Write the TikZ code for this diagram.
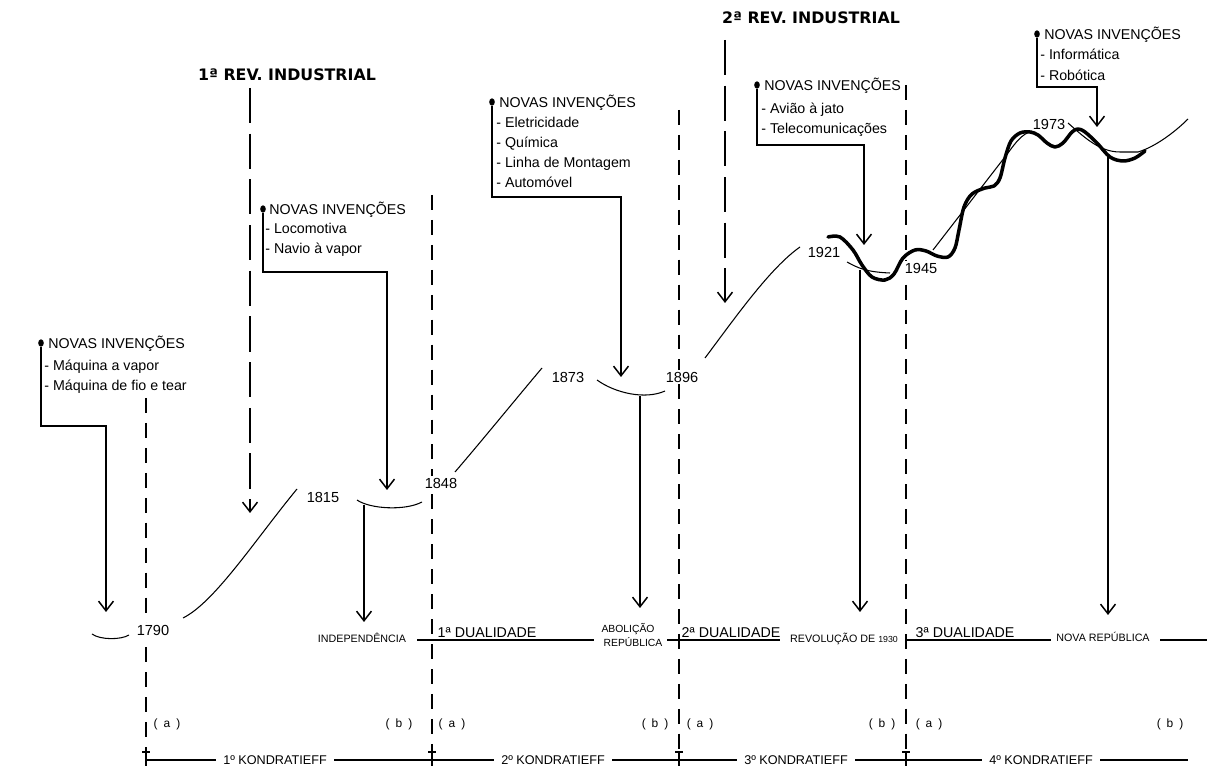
\documentclass[tikz,border=0pt]{standalone}
\usepackage{fontspec}
\setmainfont{Liberation Sans}
\newfontfamily\titlefont{DejaVu Sans}
\usetikzlibrary{arrows.meta,shapes.geometric}
\begin{document}
\begin{tikzpicture}[x=0.02cm,y=-0.02cm,
  every node/.style={inner sep=0pt, text depth=0pt},
  invh/.style={anchor=west, font=\fontsize{8.1}{9}\selectfont, text height=5.8pt},
  year/.style={font=\fontsize{8.3}{9}\selectfont, text height=6pt, fill=white, inner sep=1.2pt},
  dual/.style={font=\fontsize{8.1}{9}\selectfont, text height=5.8pt},
  evt/.style={font=\fontsize{6.1}{7}\selectfont, text height=4.4pt},
  evts/.style={font=\fontsize{5.9}{7}\selectfont, text height=4.2pt},
  ab/.style={font=\fontsize{6.8}{8}\selectfont, text height=4.9pt},
  kond/.style={font=\fontsize{7.2}{8}\selectfont, text height=5.2pt, fill=white, inner xsep=4pt, inner ysep=2pt},
  rev/.style={font=\titlefont\bfseries\fontsize{9}{10}\selectfont, text height=6.6pt},
  bullet/.style={ellipse, fill=black, minimum width=3.2pt, minimum height=4.2pt},
  conn/.style={line width=0.85pt, -{Straight Barb[length=5.5pt,width=8.5pt]}},
  revarrow/.style={conn, dash pattern=on 20pt off 6pt},
  period/.style={line width=0.85pt, dash pattern=on 8.5pt off 5.7pt},
  thin/.style={line width=0.6pt},
  wave/.style={line width=2pt, line cap=round, line join=round},
  axis/.style={line width=0.8pt},
]
\useasboundingbox (0,0) rectangle (1208,766);
\fill[white] (0,0) rectangle (1208,766);

% period boundaries (dashed) with T ticks
\foreach \x/\t [count=\i] in {146/398,432/195,679/110,906/85} {
  \coordinate (Ltop\i) at (\x,\t);
  \coordinate (Lbot\i) at (\x,752);
  \draw[period] (Ltop\i) -- (Lbot\i);
  \draw[axis] (\x-4,752) -- (\x+4,752) (\x,752) -- (\x,766);
}

% Kondratieff axis
\coordinate (K0) at (146,760);
\coordinate (K1) at (1188,760);
\draw[axis] (K0) -- (K1);
\node[kond] (k1) at (275,760) {1º KONDRATIEFF};
\node[kond] (k2) at (553,760) {2º KONDRATIEFF};
\node[kond] (k3) at (796,760) {3º KONDRATIEFF};
\node[kond] (k4) at (1041,760) {4º KONDRATIEFF};

% (a) / (b)
\foreach \x/\s [count=\i] in {167/a,399/b,452/a,655/b,700/a,882/b,929/a,1170/b}
  \node[ab] (ab\i) at (\x,723) {(\hspace{1.5pt} \s\ \hspace{1.5pt})};

% event line
\coordinate (h1a) at (417,640); \coordinate (h1b) at (594,640);
\coordinate (h2a) at (667,640); \coordinate (h2b) at (780,640);
\coordinate (h3a) at (906,640); \coordinate (h3b) at (1051,640);
\coordinate (h4a) at (1160,640); \coordinate (h4b) at (1207,640);
\draw[axis] (h1a) -- (h1b);
\draw[axis] (h2a) -- (h2b);
\draw[axis] (h3a) -- (h3b);
\draw[axis] (h4a) -- (h4b);
\node[dual] (d1) at (487,632) {1ª DUALIDADE};
\node[dual] (d2) at (731,632) {2ª DUALIDADE};
\node[dual] (d3) at (965,632) {3ª DUALIDADE};
\node[evt] (lIND) at (362,639) {INDEPENDÊNCIA};
\node[evts] (lABO) at (628,629) {ABOLIÇÃO};
\node[evts] (lREP) at (633,643) {REPÚBLICA};
\node[evt] (lREV) at (844,639) {REVOLUÇÃO DE {\fontsize{5}{6}\selectfont 1930}};
\node[evt] (lNOVA) at (1103,638) {NOVA REPÚBLICA};

% years
\node[year] (y1790) at (153,630) {1790};
\node[year] (y1815) at (323,497) {1815};
\node[year] (y1848) at (441,483) {1848};
\node[year] (y1873) at (568,377) {1873};
\node[year] (y1896) at (682,377) {1896};
\node[year] (y1921) at (824,252) {1921};
\node[year] (y1945) at (921,268) {1945};
\node[year] (y1973) at (1049,124) {1973};

% revolutions
\node[rev] (r1) at (287,75) {1ª REV. INDUSTRIAL};
\node[rev] (r2) at (811,18) {2ª REV. INDUSTRIAL};
\coordinate (r1t) at (250,88); \coordinate (r1b) at (250,513);
\coordinate (r2t) at (725,40); \coordinate (r2b) at (725,303);
\draw[revarrow] (r1t) -- (r1b);
\draw[revarrow] (r2t) -- (r2b);

% curves (thin)
\draw[thin] (92,634) .. controls (100,640) and (121,640) .. (129,635);
\draw[thin] (183,618) .. controls (215,602) and (255,540) .. (297,489);
\draw[thin] (357,500) .. controls (370,509) and (405,511) .. (422,502);
\draw[thin] (455,472) .. controls (485,437) and (515,400) .. (542,368);
\draw[thin] (597,380) .. controls (615,393) and (645,400) .. (665,391);
\draw[thin] (705,358) .. controls (735,318) and (770,268) .. (800,247);
\draw[thin] (847,262) .. controls (858,268) and (866,272) .. (890,273);
\draw[thin] (933,250) -- (1008,153) .. controls (1016,142) and (1022,134) .. (1032,131);
\draw[thin] (1068,123) .. controls (1085,138) and (1100,152) .. (1120,152) -- (1138,152) .. controls (1155,147) and (1175,132) .. (1188,119);

% wave (thick)
\draw[wave] plot[smooth, tension=0.55] coordinates {(828,237) (840,237) (853,250) (862,265) (872,277) (885,280) (894,274) (903,258) (915,250) (926,251) (937,256) (948,257) (955,248) (959,230) (964,207) (972,194) (985,188) (994,186) (1000,178) (1005,158) (1011,141) (1020,133) (1030,132) (1038,135) (1047,143) (1055,147) (1063,143) (1072,132) (1078,129) (1085,132) (1097,143) (1110,157) (1123,161) (1135,158) (1145,151)};

% arrows to events
\coordinate (sIND) at (364,505); \coordinate (tIND) at (364,622);
\coordinate (sABO) at (640,396); \coordinate (tABO) at (640,608);
\coordinate (sREV) at (860,270); \coordinate (tREV) at (860,612);
\coordinate (sNOVA) at (1108,156); \coordinate (tNOVA) at (1108,615);
\draw[conn] (sIND) -- (tIND);
\draw[conn] (sABO) -- (tABO);
\draw[conn] (sREV) -- (tREV);
\draw[conn] (sNOVA) -- (tNOVA);

% Callout A
\node[bullet] (dA) at (41,343) {};
\node[invh] (hA) at (48,343) {NOVAS INVENÇÕES};
\node[invh] (hA1) at (44,365) {- Máquina a vapor};
\node[invh] (hA2) at (44,385) {- Máquina de fio e tear};
\coordinate (kA) at (106,426); \coordinate (tA) at (106,612);
\draw[conn] (dA) |- (kA) -- (tA);

% Callout B
\node[bullet] (dB) at (263,209) {};
\node[invh] (hB) at (269,209) {NOVAS INVENÇÕES};
\node[invh] (hB1) at (265,228) {- Locomotiva};
\node[invh] (hB2) at (265,248) {- Navio à vapor};
\coordinate (kB) at (387,272); \coordinate (tB) at (387,490);
\draw[conn] (dB) |- (kB) -- (tB);

% Callout C
\node[bullet] (dC) at (492,102) {};
\node[invh] (hC) at (499,102) {NOVAS INVENÇÕES};
\node[invh] (hC1) at (496,122) {- Eletricidade};
\node[invh] (hC2) at (496,142) {- Química};
\node[invh] (hC3) at (496,162) {- Linha de Montagem};
\node[invh] (hC4) at (496,182) {- Automóvel};
\coordinate (kC) at (621,197); \coordinate (tC) at (621,377);
\draw[conn] (dC) |- (kC) -- (tC);

% Callout D
\node[bullet] (dD) at (757,85) {};
\node[invh] (hD) at (764,85) {NOVAS INVENÇÕES};
\node[invh] (hD1) at (761,108) {- Avião à jato};
\node[invh] (hD2) at (761,128) {- Telecomunicações};
\coordinate (kD) at (864,145); \coordinate (tD) at (864,245);
\draw[conn] (dD) |- (kD) -- (tD);

% Callout E
\node[bullet] (dE) at (1037,34) {};
\node[invh] (hE) at (1044,34) {NOVAS INVENÇÕES};
\node[invh] (hE1) at (1040,54) {- Informática};
\node[invh] (hE2) at (1040,75) {- Robótica};
\coordinate (kE) at (1097,87); \coordinate (tE) at (1097,127);
\draw[conn] (dE) |- (kE) -- (tE);
\end{tikzpicture}
\end{document}
